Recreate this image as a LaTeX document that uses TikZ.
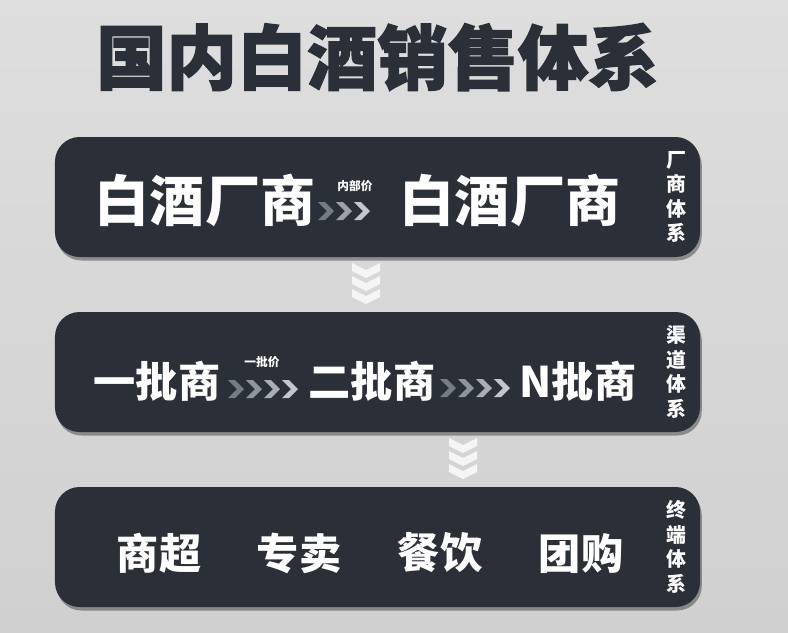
\documentclass[tikz,border=0pt]{standalone}
\usepackage{fontspec}
\newfontfamily\cjk{Noto Sans CJK SC}
\newfontfamily\cjktitle[BoldFeatures={FakeBold=2}]{Noto Sans CJK SC}
\usetikzlibrary{shadows}
\definecolor{boxc}{HTML}{2A2F38}
\definecolor{bgtop}{HTML}{DEDEDE}
\definecolor{bgbot}{HTML}{D0D0D0}
\definecolor{chevA}{HTML}{767C86}
\definecolor{chevB}{HTML}{C2C7CE}
\definecolor{titlec}{HTML}{2B2F38}
\tikzset{
  sysbox/.style={fill=boxc, rounded corners=21pt, minimum width=19.35cm, minimum height=3.6cm, inner sep=0pt,
    drop shadow={shadow xshift=1.5pt, shadow yshift=-3pt, opacity=0.35, fill=black}},
  bigtxt/.style={text=white, inner sep=0pt, font=\cjk\bfseries\fontsize{47}{50}\selectfont},
  midtxt/.style={text=white, inner sep=0pt, font=\cjk\bfseries\fontsize{36}{40}\selectfont},
  smalltxt/.style={text=white, inner sep=0pt, font=\cjk\bfseries\fontsize{10}{12}\selectfont},
  sidetxt/.style={text=white, inner sep=0pt, align=center, font=\cjk\bfseries\fontsize{17}{21}\selectfont},
  titletxt/.style={text=titlec, inner sep=0pt, font=\cjktitle\bfseries\fontsize{60}{64}\selectfont},
}
% right-pointing chevron row: left x, centre y, count
\newcommand\chevrow[3]{%
  \foreach \k in {1,...,#3}{%
    \pgfmathsetmacro\pp{#3>1 ? 100*(\k-1)/(#3-1) : 50}%
    \pgfmathsetmacro\xx{#1+18*(\k-1)}%
    \fill[chevB!\pp!chevA] (\xx,#2-9) -- (\xx+7,#2-9) -- (\xx+16,#2) -- (\xx+7,#2+9) -- (\xx,#2+9) -- (\xx+9,#2) -- cycle;
  }}
% down-pointing chevron column: centre x, top y
\newcommand\chevcol[2]{%
  \foreach \k in {1,2,3}{%
    \pgfmathsetmacro\yy{#2+13*(\k-1)}%
    \fill[white!92!gray] (#1-14,\yy) -- (#1,\yy+7) -- (#1+14,\yy) -- (#1+14,\yy+8) -- (#1,\yy+15) -- (#1-14,\yy+8) -- cycle;
  }}
\begin{document}
\begin{tikzpicture}[x=0.03cm,y=-0.03cm]
\shade[top color=bgtop, bottom color=bgbot] (0,0) rectangle (788,632);
\useasboundingbox (0,0) rectangle (788,632);

% title
\node[titletxt] (title) at (377.5,57) {国内白酒销售体系};

% boxes
\node[sysbox] (b1) at (377.5,197) {};
\node[sysbox] (b2) at (377.5,372) {};
\node[sysbox] (b3) at (377.5,547) {};

% row 1
\node[bigtxt] (m1) at (205,200) {白酒厂商};
\node[bigtxt] (m2) at (510,200) {白酒厂商};
\node[smalltxt] (p1) at (355,186) {内部价};
\chevrow{318}{211}{3}
\node[sidetxt] (s1) at (676,197) {厂\\商\\体\\系};

% row 2
\node[midtxt] (c1) at (157,381) {一批商};
\node[smalltxt] (p2) at (262,362) {一批价};
\chevrow{228}{389}{4}
\node[midtxt] (c2) at (372,381) {二批商};
\chevrow{440}{388}{4}
\node[midtxt] (c3) at (578,381) {N批商};
\node[sidetxt] (s2) at (676,372) {渠\\道\\体\\系};

% row 3
\foreach \nm/\x/\t in {t1/159/商超, t2/299/专卖, t3/440/餐饮, t4/581/团购}{
  \node[midtxt] (\nm) at (\x,553) {\t};
}
\node[sidetxt] (s3) at (676,547) {终\\端\\体\\系};

% vertical chevrons between boxes
\chevcol{366}{263}
\chevcol{463}{438}
\end{tikzpicture}
\end{document}
